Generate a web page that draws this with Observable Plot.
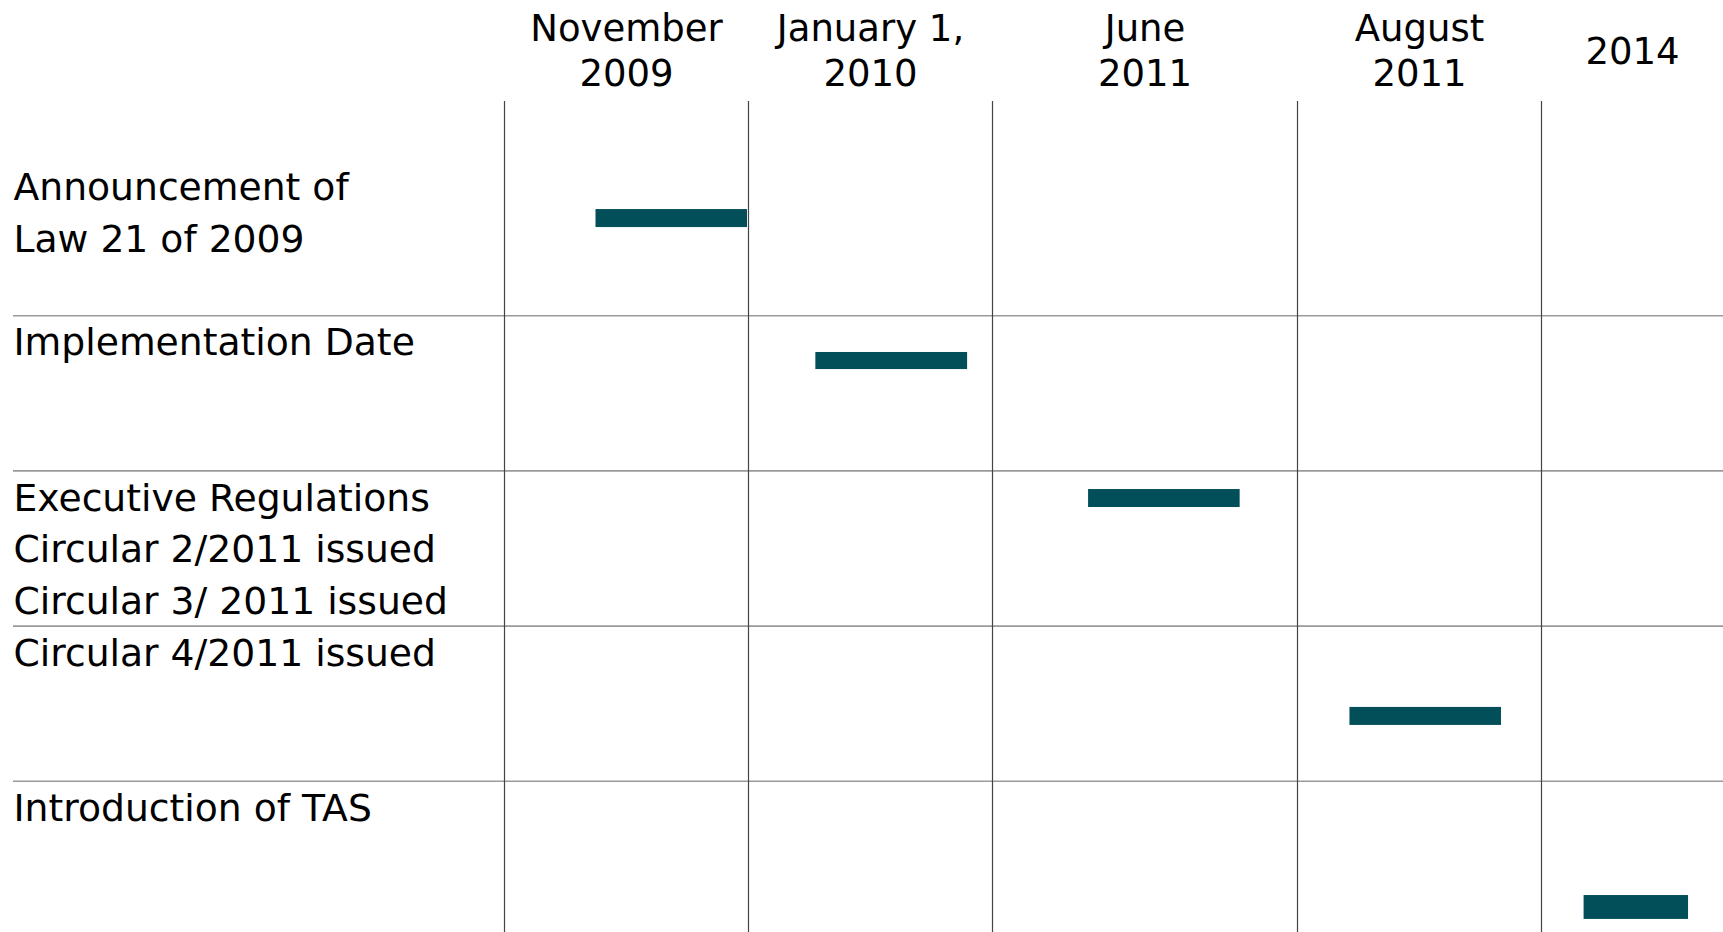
<!DOCTYPE html>
<html><head><meta charset="utf-8">
<script src="https://cdn.jsdelivr.net/npm/d3@7"></script>
<script src="https://cdn.jsdelivr.net/npm/@observablehq/plot@0.6"></script>
<style>body{margin:0;background:#fff}svg{display:block}</style>
</head><body><div id="chart"></div>
<script>
// Column headers (milestones)
const columns = ["November\n2009", "January 1,\n2010", "June\n2011", "August\n2011", "2014"];
// Row labels (events)
const events = [
  "Announcement of\nLaw 21 of 2009",
  "Implementation Date",
  "Executive Regulations\nCircular 2/2011 issued\nCircular 3/ 2011 issued",
  "Circular 4/2011 issued",
  "Introduction of TAS"
];
// Bar extents in column units (column i spans i..i+1)
const barStart = [0.375, 1.276, 2.315, 3.215, 4.234];
const barEnd   = [0.996, 1.898, 2.812, 3.836, 4.808];
// Bar vertical extents in row units (row i spans i..i+1)
const barTop    = [0.316, 1.237, 2.120, 3.524, 4.736];
const barBottom = [0.432, 1.347, 2.236, 3.640, 4.890];

const headerY = -0.7165;
const gridTop = -0.38;
const idx = d3.range(events.length);

const font = "DejaVu Sans, Verdana, sans-serif";
const chart = Plot.plot({
  width: 1723,
  height: 932,
  marginTop: 0, marginBottom: 0, marginLeft: 0, marginRight: 0,
  style: {fontFamily: font, background: "#fff", color: "#000"},
  x: {type: "linear", domain: [-1, 0, 1, 2, 3, 4, 5], range: [13, 504, 748, 992, 1297, 1541, 1723], axis: null},
  y: {type: "linear", domain: [0, 5], range: [160, 936], axis: null},
  marks: [
    Plot.ruleY(d3.range(1, events.length), {y: d => d, x1: () => -1, x2: () => 5, stroke: "#9a9a9a", strokeWidth: 1.6}),
    Plot.ruleX(d3.range(columns.length), {x: d => d, y1: () => gridTop, y2: () => 5, stroke: "#444", strokeWidth: 1.2}),
    Plot.rect(idx, {x1: i => barStart[i], x2: i => barEnd[i], y1: i => barTop[i], y2: i => barBottom[i], fill: "#034f59"}),
    Plot.text(columns, {x: (d, i) => i + 0.5, y: () => headerY, text: d => d, fontSize: 37, lineHeight: 1.216, fill: "#000", fontFamily: font}),
    Plot.text(events, {x: () => -1, y: (d, i) => i, text: d => d, textAnchor: "start", lineAnchor: "top", lineHeight: 1.37, dy: 3, fontSize: 37.7, fill: "#000", fontFamily: font})
  ]
});
document.getElementById("chart").append(chart);
</script>
</body></html>
